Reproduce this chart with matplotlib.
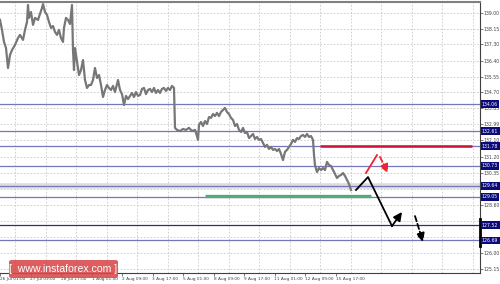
import matplotlib
matplotlib.use("Agg")
import matplotlib.pyplot as plt
from matplotlib.patches import FancyBboxPatch
import matplotlib.transforms as mtransforms
import numpy as np

# ---------------- data ----------------
bar_x = [0, 2, 4, 6, 8, 10, 12, 15, 18, 20, 23, 25, 27, 28, 29, 31, 33, 35, 38, 40,
         42, 43, 45, 47, 49, 51, 53, 55, 57, 59, 61, 63, 64, 66, 68, 70, 71, 72, 73, 74,
         75, 77, 79, 81, 83, 85, 87, 89, 91, 93, 95, 97, 99, 101, 103, 105, 107, 109, 111, 113,
         115, 117, 118, 120, 122, 124, 126, 128, 130, 132, 134, 136, 138, 140, 142, 144, 146, 148, 150, 152,
         154, 156, 158, 160, 162, 164, 166, 168, 170, 172, 174, 175, 177, 180, 183, 186, 189, 192, 195, 197,
         198, 199, 201, 203, 205, 207, 209, 211, 213, 215, 217, 219, 221, 223, 225, 227, 229, 231, 233, 235,
         237, 239, 241, 243, 245, 247, 249, 251, 253, 255, 257, 259, 261, 263, 265, 267, 269, 271, 273, 275,
         277, 279, 281, 283, 285, 287, 289, 291, 293, 295, 297, 299, 301, 303, 305, 307, 309, 311, 313, 314,
         315, 317, 319, 321, 323, 325, 327, 329, 331, 333, 335, 337, 339, 341, 343, 345, 347, 349, 351]
price = [138.62, 138.08, 137.43, 137.10, 136.02, 136.72, 136.99, 137.27, 137.64, 137.81,
         137.54, 138.08, 138.51, 139.43, 138.73, 139.05, 138.35, 138.73, 138.62, 138.94,
         139.27, 139.48, 139.05, 138.89, 138.51, 138.19, 138.29, 137.97, 137.81, 138.08,
         137.64, 137.43, 138.19, 138.73, 138.62, 138.40, 138.94, 139.43, 136.99, 135.91,
         137.10, 136.35, 135.64, 135.91, 136.45, 135.37, 134.94, 135.10, 135.10, 135.37,
         136.02, 135.48, 135.64, 135.10, 134.45, 134.83, 135.10, 134.94, 134.83, 135.05,
         134.72, 135.16, 135.37, 134.83, 134.61, 134.02, 134.51, 134.34, 134.51, 134.67,
         134.45, 134.72, 134.51, 134.56, 134.89, 134.94, 134.61, 134.83, 134.89, 134.72,
         134.94, 134.67, 134.83, 134.67, 134.89, 134.94, 134.78, 134.94, 134.83, 135.05,
         134.94, 132.78, 132.67, 132.61, 132.72, 132.67, 132.78, 132.61, 132.67, 132.34,
         132.13, 132.94, 133.10, 132.88, 133.15, 132.99, 133.37, 133.32, 133.53, 133.42,
         133.59, 133.42, 133.64, 133.75, 133.86, 133.64, 133.53, 133.32, 133.21, 132.88,
         132.99, 132.67, 132.56, 132.78, 132.50, 132.56, 132.23, 132.34, 132.45, 132.18,
         132.29, 132.13, 132.18, 131.96, 131.75, 131.86, 131.64, 131.75, 131.59, 131.64,
         131.53, 131.64, 131.37, 131.04, 131.48, 131.59, 131.75, 131.91, 132.13, 132.02,
         132.23, 132.18, 132.34, 132.40, 132.29, 132.45, 132.29, 132.34, 132.13, 131.31,
         130.77, 130.39, 130.61, 130.50, 130.61, 130.50, 130.94, 130.77, 130.72, 130.50,
         130.29, 130.07, 130.18, 130.23, 130.34, 130.18, 129.96, 129.75, 129.42]

grid_values = [139.00, 138.15, 137.30, 136.40, 135.55, 134.70, 133.85, 132.99, 132.10,
               131.20, 130.35, 129.50, 128.60, 127.75, 126.90, 126.00, 125.15]
# labels hidden behind the highlighted level boxes are left blank
grid_labels = ["139.00", "138.15", "137.30", "136.40", "135.55", "134.70", "133.85",
               "132.99", "132.10", "131.20", "130.35", "", "128.60", "",
               "", "126.00", "125.15"]
level_values = [134.06, 132.61, 131.78, 130.73, 129.64, 129.05, 127.52, 126.69]
level_labels = ["134.06", "132.61", "131.78", "130.73", "129.64", "129.05", "127.52", "126.69"]

time_labels = ["26 Jul 01:00", "27 Jul 09:00", "28 Jul 17:00", "1 Aug 01:00", "2 Aug 09:00",
               "3 Aug 17:00", "5 Aug 01:00", "8 Aug 09:00", "9 Aug 17:00", "11 Aug 01:00",
               "12 Aug 09:00", "15 Aug 17:00"]

resistance_level = 131.78
resistance_span = [320, 472]
support_level = 129.07
support_span = [205, 371]

# forecast path (black) and alternative (red)
path_x = [356, 368, 392]
path_y = [129.42, 130.12, 127.47]
up_arrow = [(392, 127.47), (402, 128.23)]
down_arrow = [(415, 128.01), (423, 126.61)]
red_line = [(366, 130.34), (377, 131.31)]
red_arrow = [(380, 131.21), (388, 130.34)]

# ---------------- figure ----------------
W, H = 500, 284
fig = plt.figure(figsize=(W / 100, H / 100), dpi=100)
ax = fig.add_axes([0, 1 - 273 / H, 480 / W, 271 / H])
ax.set_xlim(0, 480)
ax.set_ylim(124.93, 139.59)

grid_kw = dict(color="#c8c8c8", lw=0.6, ls=(0, (2, 2)), zorder=0)
for g in grid_values:
    ax.axhline(g, **grid_kw)
for gx in np.arange(15, 480, 30.5):
    ax.axvline(gx, **grid_kw)

# horizontal levels
for v, lab in zip(level_values, level_labels):
    if lab == "129.64":
        ax.axhline(v, color="#dcdcdc", lw=4, zorder=1)
    col = "#303070" if lab == "127.52" else "#7676bb"
    ax.axhline(v, color=col, lw=0.9, zorder=2)

ax.plot(support_span, [support_level, support_level], color="#55aa77", lw=2.4,
        solid_capstyle="butt", zorder=3)
ax.plot(resistance_span, [resistance_level, resistance_level], color="#cc1133", lw=1.8,
        solid_capstyle="butt", zorder=3)

# price
ax.plot(bar_x, price, color="#777777", lw=1.6, zorder=4)

# forecast path
ax.plot(path_x, path_y, color="black", lw=1.3, zorder=5)
ax.annotate("", xy=up_arrow[1], xytext=up_arrow[0],
            arrowprops=dict(arrowstyle="-|>,head_length=0.5,head_width=0.25", color="black",
                            lw=1.3, shrinkA=0, shrinkB=0), zorder=5)
ax.annotate("", xy=down_arrow[1], xytext=down_arrow[0],
            arrowprops=dict(arrowstyle="-|>,head_length=0.5,head_width=0.25", color="black",
                            lw=1.3, ls=(0, (3, 1.5)), shrinkA=0, shrinkB=0), zorder=5)
ax.plot([p[0] for p in red_line], [p[1] for p in red_line], color="#ee2233", lw=1.3, zorder=5)
ax.annotate("", xy=red_arrow[1], xytext=red_arrow[0],
            arrowprops=dict(arrowstyle="-|>,head_length=0.5,head_width=0.25", color="#ee2233",
                            lw=1.3, ls=(0, (3, 1.5)), shrinkA=0, shrinkB=0), zorder=5)

# black bar on right axis
ax.plot([480, 480], [127.85, 126.39], color="black", lw=2, clip_on=False, zorder=6)

# spines
ax.spines["left"].set_visible(False)
ax.spines["top"].set_color("#808080")
ax.spines["top"].set_linewidth(1.5)
ax.spines["right"].set_color("#404040")
ax.spines["right"].set_linewidth(0.8)
ax.spines["bottom"].set_color("#404040")
ax.spines["bottom"].set_linewidth(0.8)

# y ticks on right
ax.yaxis.tick_right()
ax.set_yticks(grid_values)
ax.set_yticklabels(grid_labels)
ax.tick_params(axis="y", length=2, width=0.5, pad=0.8, labelsize=3.3, colors="#404040")

# x ticks
ax.set_xticks(np.arange(0, 30.5 * len(time_labels), 30.5)[:len(time_labels)])
ax.set_xticklabels(time_labels, ha="left")
ax.tick_params(axis="x", length=2, width=0.5, pad=1, labelsize=3.1, colors="#404040")

# highlighted level labels on the right
trans = mtransforms.blended_transform_factory(ax.transAxes, ax.transData)
for v, lab in zip(level_values, level_labels):
    ax.text(1.004, v, lab, transform=trans, fontsize=3.3, color="white", va="center", ha="left",
            bbox=dict(boxstyle="square,pad=0.3", fc="#0a0a7a", ec="none"), zorder=10, clip_on=False)

# watermark
box = FancyBboxPatch((9 / W, 1 - 278 / H), 109 / W, 18 / H,
                     boxstyle="round,pad=0,rounding_size=0.006", transform=fig.transFigure,
                     fc="#d9484a", ec="none", alpha=0.88, zorder=20)
fig.patches.append(box)
fig.text(63.5 / W, 1 - 269 / H, "[  www.instaforex.com ]", fontsize=7.6, color="white",
         ha="center", va="center", family="Liberation Sans", zorder=21)

fig.savefig("out.png", dpi=100)
